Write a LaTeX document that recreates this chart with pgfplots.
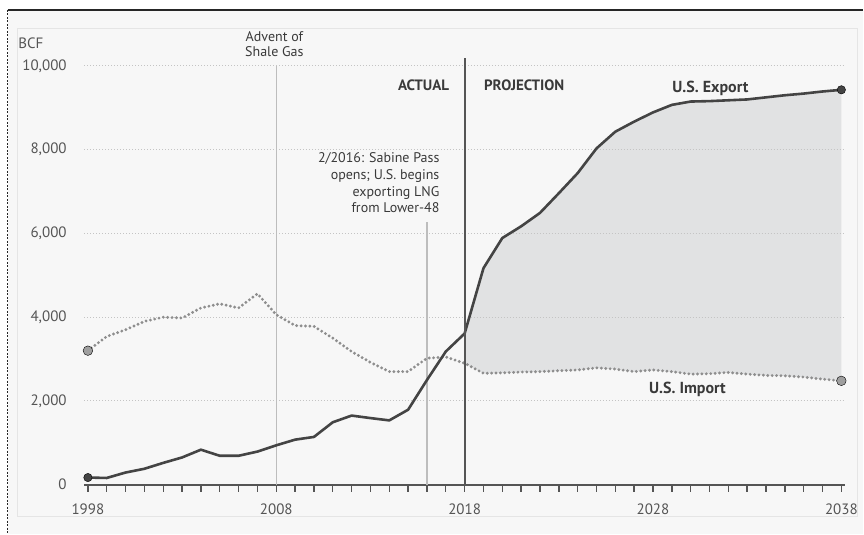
\documentclass[border=0pt]{standalone}
\usepackage{fontspec}
\setmainfont{PT Sans}
\usepackage{pgfplots}
\pgfplotsset{compat=1.18}
\definecolor{bg}{HTML}{F7F7F7}
\definecolor{txt}{HTML}{3A3A3A}
\definecolor{tick}{HTML}{555555}
\definecolor{grd}{HTML}{C4C4C4}
\definecolor{expc}{HTML}{444444}
\definecolor{impc}{HTML}{8E8E8E}
\definecolor{fillc}{HTML}{E1E2E3}
\definecolor{vl}{HTML}{BDBDBD}
\begin{document}
\begin{tikzpicture}
% background and frame (axis south west is at (0,0); axis box 761.5pt x 419pt)
\fill[white] (-84.2pt,-49pt) rectangle (779.8pt,485pt);
\fill[bg] (-76.2pt,-49pt) rectangle (779.8pt,475pt);
\draw[draw=black!85, line width=1.2pt] (-76.2pt,475pt) -- (779.8pt,475pt);
\draw[draw=black!85, line width=1pt, dash pattern=on 2pt off 1.5pt] (-76.2pt,475pt) -- (-76.2pt,-49pt);
\draw[draw=black!10, line width=0.6pt] (-67.2pt,-32pt) rectangle (773.8pt,457pt);
\begin{axis}[
  at={(0,0)}, anchor=south west,
  scale only axis, width=761.5pt, height=419pt,
  xmin=1997.8, xmax=2038.2, ymin=0, ymax=10000,
  clip=false,
  axis x line*=bottom, axis y line*=left,
  x axis line style={draw=tick, line width=2pt, -},
  y axis line style={draw=none},
  xtick={1998,2008,2018,2028,2038},
  xticklabels={1998,2008,2018,2028,2038},
  minor x tick num=9,
  xtick align=outside,
  major tick length=7pt, minor tick length=7pt,
  x tick style={draw=tick, line width=1.4pt},
  ytick={0,2000,4000,6000,8000,10000},
  yticklabels={0,{2,000},{4,000},{6,000},{8,000},{10,000}},
  scaled y ticks=false, scaled x ticks=false,
  y tick style={draw=none},
  ticklabel style={font=\fontsize{15}{17}\selectfont, text=tick},
  yticklabel style={anchor=east, xshift=-14pt},
  xticklabel style={yshift=-9pt},
]
% projected gap (export above import), 2018-2038
\addplot[fill=fillc, draw=none] coordinates {
(2018,3610)(2019,5170)(2020,5890)(2021,6170)(2022,6490)(2023,6960)(2024,7440)(2025,8030)(2026,8430)(2027,8670)
(2028,8890)(2029,9070)(2030,9150)(2031,9160)(2032,9180)(2033,9200)(2034,9250)(2035,9300)(2036,9340)(2037,9390)(2038,9430)
(2038,2480)(2037,2520)(2036,2570)(2035,2600)(2034,2610)(2033,2640)(2032,2680)(2031,2650)(2030,2640)(2029,2700)(2028,2740)
(2027,2700)(2026,2760)(2025,2790)(2024,2740)(2023,2720)(2022,2700)(2021,2690)(2020,2670)(2019,2660)(2018,2900)} -- cycle;
% grid lines
\foreach \yy in {2000,4000,6000,8000,10000} {
  \edef\tmp{\noexpand\draw[draw=grd, line width=1pt, dash pattern=on 1.2pt off 1.8pt] (axis cs:1997.8,\yy) -- (axis cs:2038.2,\yy);}\tmp
}
% vertical reference lines
\draw[vl, line width=1.5pt] (axis cs:2008,0) -- (axis cs:2008,10000);
\draw[vl, line width=1.5pt] (axis cs:2016,0) -- (axis cs:2016,6280);
% import
\addplot[impc, line width=3.2pt, line cap=round, dash pattern=on 0pt off 4.4pt] coordinates {
(1998,3200)(1999,3540)(2000,3700)(2001,3900)(2002,4000)(2003,3980)(2004,4220)(2005,4320)(2006,4220)(2007,4560)
(2008,4060)(2009,3800)(2010,3780)(2011,3500)(2012,3180)(2013,2920)(2014,2700)(2015,2700)(2016,3020)(2017,3050)
(2018,2900)(2019,2660)(2020,2670)(2021,2690)(2022,2700)(2023,2720)(2024,2740)(2025,2790)(2026,2760)(2027,2700)
(2028,2740)(2029,2700)(2030,2640)(2031,2650)(2032,2680)(2033,2640)(2034,2610)(2035,2600)(2036,2570)(2037,2520)(2038,2480)};
\addplot[only marks, mark=*, mark size=4.8pt, mark options={fill=impc!85, draw=none}] coordinates {(1998,3200)(2038,2480)};
% export
\addplot[expc, line width=2.6pt, line join=round] coordinates {
(1998,170)(1999,160)(2000,290)(2001,380)(2002,520)(2003,650)(2004,835)(2005,690)(2006,690)(2007,790)
(2008,940)(2009,1075)(2010,1140)(2011,1490)(2012,1650)(2013,1590)(2014,1535)(2015,1790)(2016,2500)(2017,3180)
(2018,3610)(2019,5170)(2020,5890)(2021,6170)(2022,6490)(2023,6960)(2024,7440)(2025,8030)(2026,8430)(2027,8670)
(2028,8890)(2029,9070)(2030,9150)(2031,9160)(2032,9180)(2033,9200)(2034,9250)(2035,9300)(2036,9340)(2037,9390)(2038,9430)};
\addplot[only marks, mark=*, mark size=4.2pt, mark options={fill=expc, draw=none}] coordinates {(1998,170)(2038,9430)};
% actual / projection divider
\draw[tick, line width=2pt] (axis cs:2018,0) -- (axis cs:2018,10200);
% texts
\node[anchor=east, font=\bfseries\fontsize{15}{17}\selectfont, text=txt] at (axis cs:2017.36,9550) {ACTUAL};
\node[anchor=west, font=\bfseries\fontsize{15}{17}\selectfont, text=txt] at (axis cs:2018.85,9550) {PROJECTION};
\node[font=\bfseries\fontsize{16}{18}\selectfont, text=txt] at (axis cs:2031.05,9470) {U.S. Export};
\node[font=\bfseries\fontsize{16}{18}\selectfont, text=txt] at (axis cs:2029.83,2270) {U.S. Import};
\node[anchor=south, align=center, inner sep=0pt, font=\fontsize{14}{15}\selectfont, text=txt] at (axis cs:2007.9,10215) {Advent of\\Shale Gas};
\node[anchor=north east, align=right, inner sep=0pt, font=\fontsize{14}{16.7}\selectfont, text=txt] at (axis cs:2016.67,7930) {2/2016: Sabine Pass\\opens; U.S. begins\\exporting LNG\\from Lower-48};
\node[anchor=west, inner sep=0pt, font=\fontsize{15}{17}\selectfont, text=tick] at (axis cs:1994.3,10550) {BCF};
\end{axis}
\useasboundingbox (-84.2pt,-49pt) rectangle (779.8pt,485pt);
\end{tikzpicture}
\end{document}
